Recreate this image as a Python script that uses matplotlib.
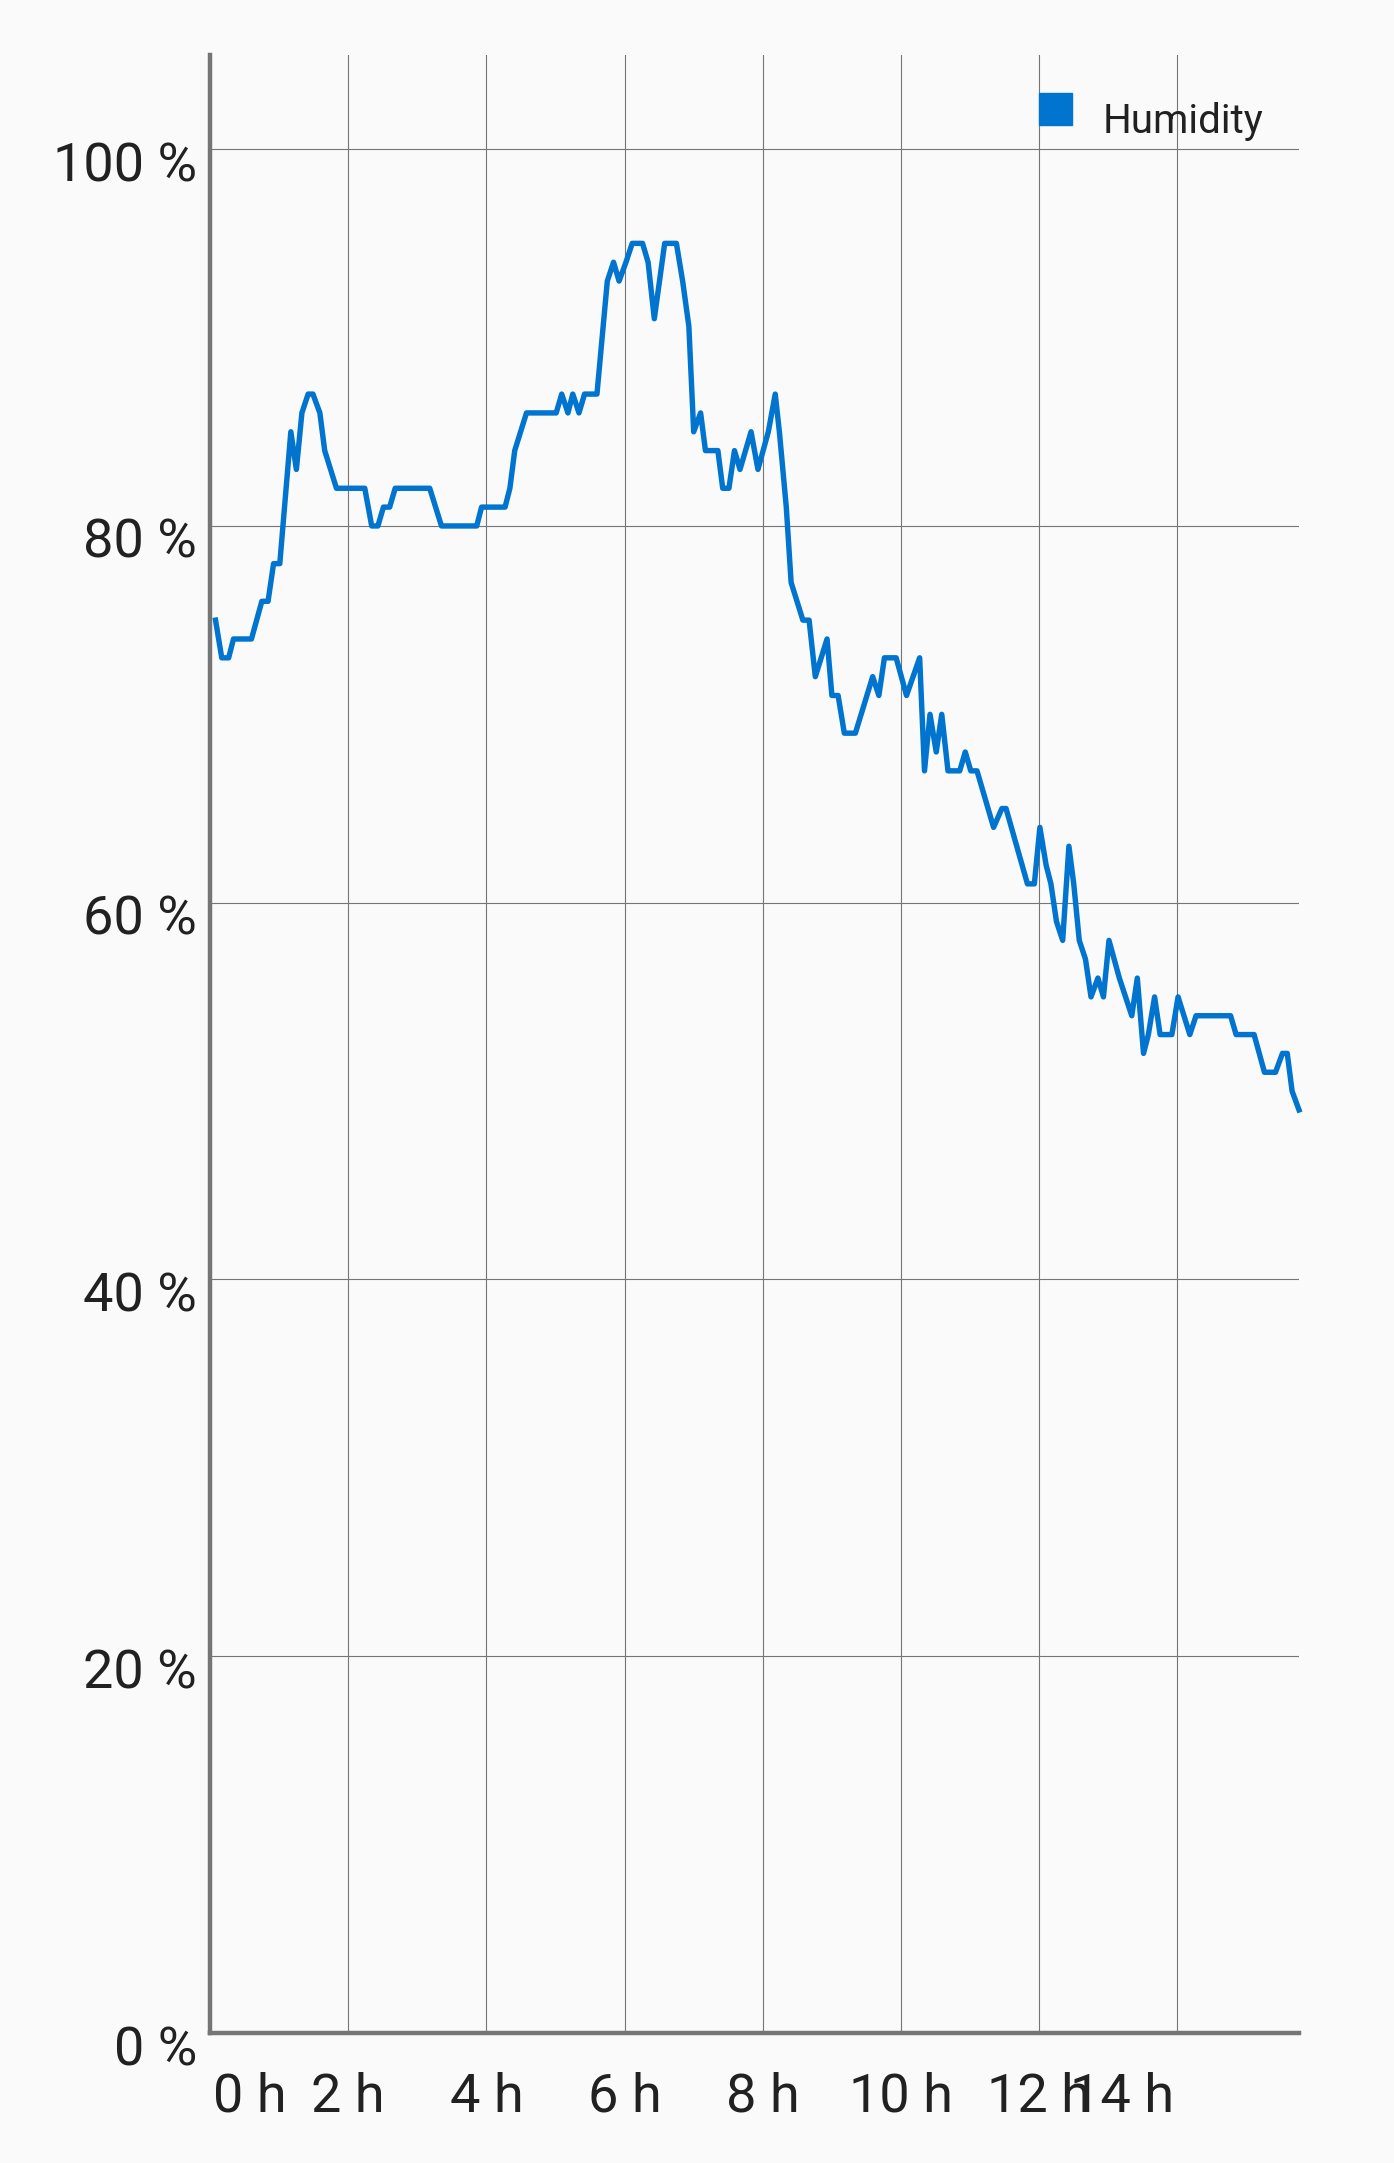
import matplotlib.pyplot as plt
from matplotlib.patches import Rectangle
from matplotlib.transforms import offset_copy

# hours since start, humidity in %
hours = [0.08, 0.17, 0.27, 0.34, 0.60, 0.75, 0.84, 0.92, 1.01, 1.17, 1.25, 1.33,
         1.42, 1.49, 1.59, 1.66, 1.83, 2.24, 2.34, 2.43, 2.51, 2.60, 2.68, 3.18,
         3.35, 3.86, 3.93, 4.27, 4.34, 4.41, 4.58, 5.01, 5.09, 5.18, 5.25, 5.34,
         5.42, 5.60, 5.75, 5.84, 5.92, 6.02, 6.11, 6.26, 6.34, 6.43, 6.58, 6.75,
         6.84, 6.93, 7.00, 7.10, 7.17, 7.35, 7.42, 7.51, 7.59, 7.67, 7.83, 7.93,
         8.08, 8.18, 8.24, 8.34, 8.41, 8.58, 8.67, 8.76, 8.93, 9.00, 9.09, 9.18,
         9.34, 9.59, 9.68, 9.76, 9.93, 10.08, 10.27, 10.34, 10.42, 10.51, 10.59,
         10.68, 10.85, 10.93, 11.01, 11.10, 11.34, 11.46, 11.52, 11.83, 11.93,
         12.01, 12.10, 12.17, 12.25, 12.34, 12.43, 12.50, 12.58, 12.67, 12.75,
         12.85, 12.93, 13.01, 13.16, 13.34, 13.42, 13.51, 13.58, 13.67, 13.75,
         13.92, 14.01, 14.18, 14.27, 14.77, 14.85, 15.11, 15.26, 15.42, 15.52,
         15.59, 15.66, 15.76]
humidity = [75, 73, 73, 74, 74, 76, 76, 78, 78, 85, 83, 86,
            87, 87, 86, 84, 82, 82, 80, 80, 81, 81, 82, 82,
            80, 80, 81, 81, 82, 84, 86, 86, 87, 86, 87, 86,
            87, 87, 93, 94, 93, 94, 95, 95, 94, 91, 95, 95,
            93, 90.6, 85, 86, 84, 84, 82, 82, 84, 83, 85, 83,
            85, 87, 85, 81, 77, 75, 75, 72, 74, 71, 71, 69,
            69, 72, 71, 73, 73, 71, 73, 67, 70, 68, 70,
            67, 67, 68, 67, 67, 64, 65, 65, 61, 61,
            64, 62, 61, 59, 58, 63, 61, 58, 57, 55,
            56, 55, 58, 56, 54, 56, 52, 53, 55, 53,
            53, 55, 53, 54, 54, 53, 53, 51, 51, 52,
            52, 50, 49]

y_ticks = [0, 20, 40, 60, 80, 100]
y_labels = ["0 %", "20 %", "40 %", "60 %", "80 %", "100 %"]
x_ticks = [0, 2, 4, 6, 8, 10, 12, 14]
x_labels = ["0 h", "2 h", "4 h", "6 h", "8 h", "10 h", "12 h", "14 h"]

W, H = 1394, 2163
bg = "#FAFAFA"
txt = "#212121"
blue = "#0074CE"
gray = "#757575"

plt.rcParams["font.family"] = ["Roboto", "DejaVu Sans"]

fig = plt.figure(figsize=(W / 100, H / 100), dpi=100, facecolor=bg)
ax = fig.add_axes([210 / W, 1 - 2033 / H, (1299 - 210) / W, (2033 - 55) / H])
ax.set_facecolor(bg)

ax.plot(hours, humidity, color=blue, lw=3.9, solid_joinstyle="round", clip_on=False, zorder=3)

ax.set_xlim(0, 15.76)
ax.set_ylim(0, 105)
ax.set_xticks(x_ticks)
ax.set_yticks(y_ticks)
ax.set_xticklabels([])
ax.set_yticklabels([])
ax.tick_params(length=0)
ax.grid(True, color=gray, lw=0.8)
ax.set_axisbelow(True)

for s in ["top", "right"]:
    ax.spines[s].set_visible(False)
for s in ["left", "bottom"]:
    ax.spines[s].set_color(gray)
    ax.spines[s].set_linewidth(3.2)
    ax.spines[s].set_zorder(4)

# y labels, a bit below their gridline
ytr = offset_copy(ax.transData, fig=fig, x=-13, y=-32, units="dots")
for v, lab in zip(y_ticks, y_labels):
    ax.text(0, v, lab, transform=ytr, ha="right", va="baseline",
            fontsize=39, color=txt, clip_on=False)

# x labels, first and last pulled inside
for i, (v, lab) in enumerate(zip(x_ticks, x_labels)):
    if i == 0:
        ha, dx = "left", 3
    elif i == len(x_ticks) - 1:
        ha, dx = "right", -3
    else:
        ha, dx = "center", 0
    xtr = offset_copy(ax.transData, fig=fig, x=dx, y=-79, units="dots")
    ax.text(v, 0, lab, transform=xtr, ha=ha, va="baseline",
            fontsize=39, color=txt, clip_on=False)

# legend
fig.patches.append(Rectangle((1039 / W, 1 - 125 / H), 33 / W, 32 / H,
                             transform=fig.transFigure, color=blue, zorder=5))
fig.text(1103 / W, 1 - 133 / H, "Humidity", ha="left", va="baseline",
         fontsize=29, color=txt, zorder=5)

fig.savefig("out.png", dpi=100, facecolor=bg)
